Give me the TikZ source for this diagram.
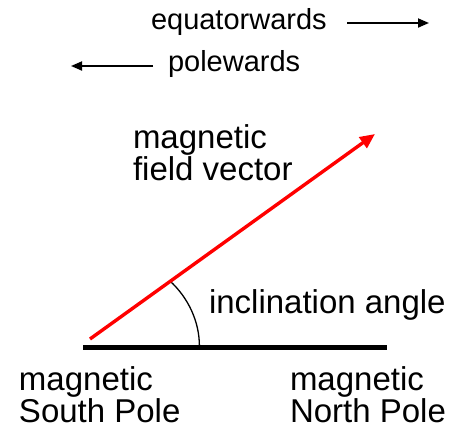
\documentclass[tikz,border=0pt]{standalone}
\usepackage{fontspec}
\setmainfont{Liberation Sans}
\usetikzlibrary{arrows.meta}
\begin{document}
\begin{tikzpicture}[x=1pt,y=-1pt,
  lbl/.style={anchor=base west,inner sep=0pt,outer sep=0pt,align=left,font=\fontsize{33}{32}\selectfont},
  toplbl/.style={anchor=base west,inner sep=0pt,outer sep=0pt,font=\fontsize{29}{29}\selectfont},
  dirarrow/.style={line width=1.8pt,-{Triangle[length=11pt,width=9pt]}},
  fieldarrow/.style={red,line width=3.4pt,-{Triangle[length=15pt,width=13pt]}},
  baseline/.style={black,line width=5pt},
  anglearc/.style={black,line width=1.3pt}]
\useasboundingbox (0,0) rectangle (455,432);
% labels (multi-line labels are anchored at the baseline of their last line)
\node[toplbl] (eq) at (151,29) {equatorwards};
\node[toplbl] (pole) at (168,71) {polewards};
\node[lbl] (field) at (133,180) {magnetic\\field vector};
\node[lbl] (incl) at (209,313) {inclination angle};
\node[lbl] (south) at (19,422) {magnetic\\South Pole};
\node[lbl] (north) at (290,422) {magnetic\\North Pole};
% coordinates
\coordinate (eqA) at (347,23);
\coordinate (eqB) at (429,23);
\coordinate (poA) at (153,66);
\coordinate (poB) at (71,66);
\coordinate (baseL) at (83,347);
\coordinate (baseR) at (387,347);
\coordinate (vecS) at (90,339);
\coordinate (vecE) at (375,134);
\coordinate (arcA) at (170,281);
\coordinate (arcB) at (199.4,346);
% drawing
\draw[dirarrow] (eqA) -- (eqB);
\draw[dirarrow] (poA) -- (poB);
\draw[anglearc] (arcA) .. controls (188.5,298) and (199.4,321.8) .. (arcB);
\draw[baseline] (baseL) -- (baseR);
\draw[fieldarrow] (vecS) -- (vecE);
\end{tikzpicture}
\end{document}
